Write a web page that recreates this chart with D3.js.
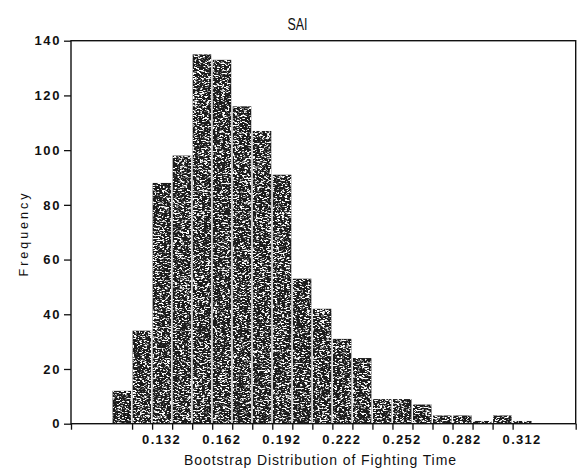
<!DOCTYPE html>
<html>
<head>
<meta charset="utf-8">
<script src="https://cdn.jsdelivr.net/npm/d3@7"></script>
<style>
  html, body { margin: 0; padding: 0; background: #fff; }
  svg { display: block; }
  text { font-family: "Liberation Sans", Arial, sans-serif; fill: #111; }
</style>
</head>
<body>
<svg id="chart" width="581" height="475"></svg>
<script>
// Bootstrap histogram of fighting time (bin midpoints, bin width 0.01)
const title = "SAI";
const xTitle = "Bootstrap Distribution of Fighting Time";
const yTitle = "Frequency";
const binWidth = 0.01;
const midpoints = [0.112, 0.122, 0.132, 0.142, 0.152, 0.162, 0.172, 0.182, 0.192, 0.202,
                   0.212, 0.222, 0.232, 0.242, 0.252, 0.262, 0.272, 0.282, 0.292, 0.302, 0.312];
const counts = [12, 34, 88, 98, 135, 133, 116, 107, 91, 53,
                42, 31, 24, 9, 9, 7, 3, 3, 1, 3, 1];
const xTickLabels = [0.132, 0.162, 0.192, 0.222, 0.252, 0.282, 0.312];
const yTicks = [0, 20, 40, 60, 80, 100, 120, 140];

const svg = d3.select("#chart");
const plotLeft = 71, plotRight = 575.7, plotTop = 40.7, plotBottom = 423.7;

const x = d3.scaleLinear().domain([0.0865, 0.3385]).range([plotLeft, plotRight]);
const y = d3.scaleLinear().domain([0, 140]).range([plotBottom, plotTop]);

// Grainy print texture for the bars
const defs = svg.append("defs");
const f = defs.append("filter").attr("id", "grain")
  .attr("x", 0).attr("y", 0).attr("width", "100%").attr("height", "100%")
  .attr("color-interpolation-filters", "sRGB");
f.append("feTurbulence").attr("type", "fractalNoise")
  .attr("baseFrequency", "0.4 1.4").attr("numOctaves", 2).attr("seed", 11).attr("result", "noise");
f.append("feColorMatrix").attr("in", "noise").attr("type", "matrix")
  .attr("values", "0 0 0 0 1  0 0 0 0 1  0 0 0 0 1  7 0 0 0 -3.5").attr("result", "specks");
f.append("feComposite").attr("in", "specks").attr("in2", "SourceGraphic")
  .attr("operator", "in").attr("result", "clipped");
const merge = f.append("feMerge");
merge.append("feMergeNode").attr("in", "SourceGraphic");
merge.append("feMergeNode").attr("in", "clipped");

// Bars
const bars = midpoints.map((m, i) => ({ lo: m - binWidth / 2, hi: m + binWidth / 2, n: counts[i] }));
svg.append("g").attr("filter", "url(#grain)")
  .selectAll("rect").data(bars).join("rect")
  .attr("x", d => x(d.lo) + 0.5)
  .attr("width", d => x(d.hi) - x(d.lo) - 1.5)
  .attr("y", d => y(d.n))
  .attr("height", d => y(0) - y(d.n))
  .attr("fill", "#1c1c1c");

// Frame
svg.append("rect")
  .attr("x", plotLeft).attr("y", plotTop)
  .attr("width", plotRight - plotLeft).attr("height", plotBottom - plotTop)
  .attr("fill", "none").attr("stroke", "#111").attr("stroke-width", 1.4);

// Y axis
const yAxis = d3.axisLeft(y).tickValues(yTicks).tickSize(7).tickPadding(3).tickFormat(d3.format("d"));
const gy = svg.append("g").attr("transform", `translate(${plotLeft},0)`).call(yAxis);
gy.select(".domain").remove();
gy.selectAll(".tick line").attr("stroke", "#111").attr("stroke-width", 1.3);
gy.selectAll(".tick text")
  .attr("font-family", "Liberation Sans, Arial, sans-serif")
  .attr("font-size", 13).attr("font-weight", "bold").attr("fill", "#111")
  .attr("letter-spacing", 1.6);

// X axis: ticks at bin boundaries, labels at selected midpoints
const edges = midpoints.slice(1).map(m => m - binWidth / 2).concat([x.domain()[0], x.domain()[1]]);
const gxt = svg.append("g").attr("transform", `translate(0,${plotBottom})`)
  .call(d3.axisBottom(x).tickValues(edges).tickSize(6).tickFormat(""));
gxt.select(".domain").remove();
gxt.selectAll(".tick line").attr("stroke", "#111").attr("stroke-width", 1.3);

const gxl = svg.append("g").attr("transform", `translate(0,${plotBottom})`)
  .call(d3.axisBottom(x).tickValues(xTickLabels).tickSize(0).tickPadding(11).tickFormat(d3.format(".3f")));
gxl.select(".domain").remove();
gxl.selectAll(".tick text")
  .attr("font-family", "Liberation Sans, Arial, sans-serif")
  .attr("font-size", 13).attr("font-weight", "bold").attr("fill", "#111")
  .attr("letter-spacing", 1.3).attr("dx", -1);

// Titles
svg.append("text").attr("x", 297.5).attr("y", 29.5).attr("text-anchor", "middle")
  .attr("font-size", 16).attr("textLength", 20).attr("lengthAdjust", "spacingAndGlyphs")
  .text(title);

svg.append("text").attr("x", 320).attr("y", 465).attr("text-anchor", "middle")
  .attr("font-size", 14).attr("textLength", 272).attr("lengthAdjust", "spacing")
  .text(xTitle);

svg.append("text").attr("transform", "translate(28,235) rotate(-90)").attr("text-anchor", "middle")
  .attr("font-size", 12.5).attr("textLength", 83).attr("lengthAdjust", "spacing")
  .text(yTitle);
</script>
</body>
</html>
